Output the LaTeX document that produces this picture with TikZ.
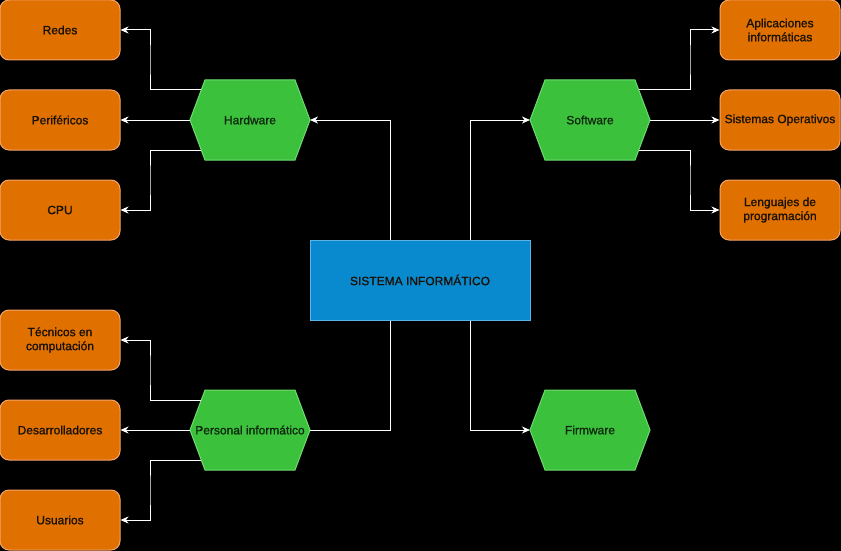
\documentclass[tikz,border=0pt]{standalone}
\usepackage{fontspec}
\setmainfont{Liberation Sans}[BoldFont=Liberation Sans, BoldFeatures={FakeBold=1.2}]
\usetikzlibrary{arrows.meta,shapes.geometric}
\definecolor{bg}{HTML}{000000}
\definecolor{orfill}{HTML}{E07000}
\definecolor{orline}{HTML}{F3A46A}
\definecolor{grfill}{HTML}{3CC13C}
\definecolor{grline}{HTML}{6FDC6F}
\definecolor{blfill}{HTML}{0A8ACE}
\definecolor{blline}{HTML}{5CB4E6}
\definecolor{txt}{HTML}{1A1208}
\definecolor{gtxt}{HTML}{0E2A0E}
\tikzset{
  leaf/.style={draw=orline, fill=orfill, line width=1pt, rounded corners=9pt,
    minimum width=120pt, minimum height=60pt, inner sep=0pt, align=center,
    text=txt, font=\fontsize{12}{14}\selectfont\bfseries},
  hexa/.style={text=gtxt, font=\fontsize{12}{14}\selectfont\bfseries, inner sep=0pt},
  central/.style={draw=blline, fill=blfill, line width=1pt,
    minimum width=220pt, minimum height=80pt, inner sep=0pt,
    text=txt, font=\fontsize{12}{14}\selectfont\bfseries},
  link/.style={draw=white, line width=1pt},
  arr/.style={link, -{Stealth[length=8pt,width=7pt,inset=2.5pt]}}
}
\newcommand{\hexshape}[3]{% name, cx, cy
  \fill[grfill, draw=grline, line width=1pt]
    (#2-60,#3) -- (#2-45,#3-40) -- (#2+45,#3-40) -- (#2+60,#3)
    -- (#2+45,#3+40) -- (#2-45,#3+40) -- cycle;
  \coordinate (#1-w) at (#2-60,#3);
  \coordinate (#1-e) at (#2+60,#3);
  \coordinate (#1-nw) at (#2-48.75,#3-30);
  \coordinate (#1-sw) at (#2-48.75,#3+30);
  \coordinate (#1-ne) at (#2+48.75,#3-30);
  \coordinate (#1-se) at (#2+48.75,#3+30);
}
\begin{document}
\begin{tikzpicture}[x=1pt,y=-1pt]
\fill[bg] (0,0) rectangle (841,551);
\useasboundingbox (0,0) rectangle (841,551);

% central
\node[central] (sys) at (420,280) {SISTEMA INFORMÁTICO};

% hexagons
\hexshape{hw}{250}{120}
\hexshape{sw}{590}{120}
\hexshape{pi}{250}{430}
\hexshape{fw}{590}{430}
\node[hexa] (hwt) at (250,120) {Hardware};
\node[hexa] (swt) at (590,120) {Software};
\node[hexa] (pit) at (250,430) {Personal informático};
\node[hexa] (fwt) at (590,430) {Firmware};

% leaves left
\node[leaf] (redes) at (60,30) {Redes};
\node[leaf] (peri) at (60,120) {Periféricos};
\node[leaf] (cpu) at (60,210) {CPU};
\node[leaf] (tec) at (60,340) {Técnicos en\\computación};
\node[leaf] (des) at (60,430) {Desarrolladores};
\node[leaf] (usu) at (60,520) {Usuarios};
% leaves right
\node[leaf] (apl) at (780,30) {Aplicaciones\\informáticas};
\node[leaf] (sop) at (780,120) {Sistemas Operativos};
\node[leaf] (len) at (780,210) {Lenguajes de\\programación};

% central connectors
\draw[arr] ([xshift=-30pt]sys.north) |- (hw-e);
\draw[arr] ([xshift=50pt]sys.north) |- (sw-w);
\draw[link] ([xshift=-30pt]sys.south) |- (pi-e);
\draw[arr] ([xshift=50pt]sys.south) |- (fw-w);

% hardware
\draw[arr] (hw-nw) -| (150,60) |- (redes.east);
\draw[arr] (hw-w) -- (peri.east);
\draw[arr] (hw-sw) -| (150,180) |- (cpu.east);
% software
\draw[arr] (sw-ne) -| (690,60) |- (apl.west);
\draw[arr] (sw-e) -- (sop.west);
\draw[arr] (sw-se) -| (690,180) |- (len.west);
% personal
\draw[arr] (pi-nw) -| (150,370) |- (tec.east);
\draw[arr] (pi-w) -- (des.east);
\draw[arr] (pi-sw) -| (150,490) |- (usu.east);
\end{tikzpicture}
\end{document}
